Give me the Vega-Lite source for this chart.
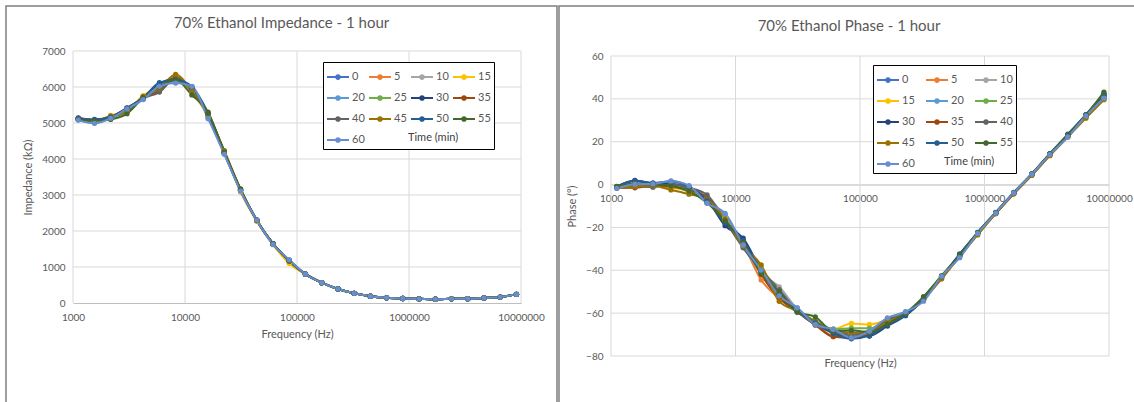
{
"$schema": "https://vega.github.io/schema/vega-lite/v6.json",
"background": "white",
"padding": {"left": 5, "top": 5, "right": 0, "bottom": 0},
"spacing": 0,
"config": {
  "font": "Lato",
  "axis": {"labelColor": "#595959", "titleColor": "#595959", "labelFontSize": 10, "titleFontSize": 11, "titleFontWeight": "normal", "grid": false, "ticks": false, "domain": false, "labelFont": "Lato", "titleFont": "Lato", "labelOverlap": false, "labelFlush": false},
  "title": {"fontSize": 15, "fontWeight": "normal", "color": "#595959", "font": "Lato"},
  "legend": {"strokeColor": "#000000", "fillColor": "#ffffff", "padding": 3, "direction": "horizontal", "symbolType": "M-1,0L1,0M-0.17,0A0.17,0.17,0,1,1,0.17,0A0.17,0.17,0,1,1,-0.17,0Z", "symbolSize": 484, "symbolStrokeWidth": 2, "labelFontSize": 11, "labelColor": "#595959", "labelFont": "Lato", "labelOffset": 2, "rowPadding": 3, "titleOrient": "bottom", "titlePadding": -14, "titleFontSize": 11, "titleFontWeight": "normal", "titleColor": "#404040", "titleFont": "Lato", "titleAnchor": "middle", "titleAlign": "left"}
},
"resolve": {"scale": {"x": "independent", "y": "independent", "color": "independent"}, "legend": {"color": "independent"}},
"datasets": {"d": [
{"t":0,"f":1114,"z":5130,"p":-1},{"t":0,"f":1556,"z":5080,"p":1.5},{"t":0,"f":2172,"z":5180,"p":0.8},{"t":0,"f":3032,"z":5400,"p":1.2},{"t":0,"f":4232,"z":5700,"p":-1},{"t":0,"f":5909,"z":6050,"p":-7.5},{"t":0,"f":8249,"z":6220,"p":-16},{"t":0,"f":11516,"z":5950,"p":-26},{"t":0,"f":16075,"z":5200,"p":-40.5},{"t":0,"f":22441,"z":4160,"p":-51},{"t":0,"f":31333,"z":3130,"p":-58.5},{"t":0,"f":43742,"z":2290,"p":-64.5},{"t":0,"f":61065,"z":1640,"p":-69},{"t":0,"f":85268,"z":1170,"p":-71},{"t":0,"f":119010,"z":800,"p":-69},{"t":0,"f":166150,"z":565,"p":-64},{"t":0,"f":231960,"z":390,"p":-60.5},{"t":0,"f":323810,"z":270,"p":-53},{"t":0,"f":452080,"z":190,"p":-43},{"t":0,"f":631100,"z":145,"p":-33},{"t":0,"f":881050,"z":125,"p":-22.5},{"t":0,"f":1230000,"z":115,"p":-13.2},{"t":0,"f":1717100,"z":105,"p":-4},{"t":0,"f":2397100,"z":115,"p":4.8},{"t":0,"f":3346500,"z":120,"p":14.2},{"t":0,"f":4672000,"z":140,"p":23},{"t":0,"f":6522200,"z":165,"p":32.5},{"t":0,"f":9106500,"z":240,"p":41.5},
{"t":5,"f":1114,"z":5110,"p":-1.5},{"t":5,"f":1556,"z":5060,"p":-1.2},{"t":5,"f":2172,"z":5150,"p":-0.5},{"t":5,"f":3032,"z":5360,"p":-1},{"t":5,"f":4232,"z":5720,"p":-2.5},{"t":5,"f":5909,"z":6000,"p":-6.5},{"t":5,"f":8249,"z":6280,"p":-17},{"t":5,"f":11516,"z":5900,"p":-28},{"t":5,"f":16075,"z":5250,"p":-44.5},{"t":5,"f":22441,"z":4200,"p":-53},{"t":5,"f":31333,"z":3090,"p":-59},{"t":5,"f":43742,"z":2280,"p":-65},{"t":5,"f":61065,"z":1630,"p":-70.5},{"t":5,"f":85268,"z":1150,"p":-70},{"t":5,"f":119010,"z":800,"p":-68.5},{"t":5,"f":166150,"z":565,"p":-63.5},{"t":5,"f":231960,"z":390,"p":-60},{"t":5,"f":323810,"z":270,"p":-53.5},{"t":5,"f":452080,"z":190,"p":-44},{"t":5,"f":631100,"z":145,"p":-33.5},{"t":5,"f":881050,"z":125,"p":-23},{"t":5,"f":1230000,"z":115,"p":-13.5},{"t":5,"f":1717100,"z":105,"p":-4.2},{"t":5,"f":2397100,"z":115,"p":4.5},{"t":5,"f":3346500,"z":120,"p":13.8},{"t":5,"f":4672000,"z":140,"p":22.6},{"t":5,"f":6522200,"z":165,"p":31.8},{"t":5,"f":9106500,"z":240,"p":40.5},
{"t":10,"f":1114,"z":5100,"p":-1.2},{"t":10,"f":1556,"z":5040,"p":-0.5},{"t":10,"f":2172,"z":5160,"p":-1},{"t":10,"f":3032,"z":5380,"p":0.5},{"t":10,"f":4232,"z":5690,"p":-2},{"t":10,"f":5909,"z":5980,"p":-6},{"t":10,"f":8249,"z":6250,"p":-15},{"t":10,"f":11516,"z":5930,"p":-29},{"t":10,"f":16075,"z":5230,"p":-41},{"t":10,"f":22441,"z":4180,"p":-47.7},{"t":10,"f":31333,"z":3120,"p":-58},{"t":10,"f":43742,"z":2300,"p":-64},{"t":10,"f":61065,"z":1650,"p":-68},{"t":10,"f":85268,"z":1160,"p":-69.5},{"t":10,"f":119010,"z":800,"p":-68},{"t":10,"f":166150,"z":565,"p":-63},{"t":10,"f":231960,"z":390,"p":-60},{"t":10,"f":323810,"z":270,"p":-53},{"t":10,"f":452080,"z":190,"p":-43},{"t":10,"f":631100,"z":145,"p":-33.5},{"t":10,"f":881050,"z":125,"p":-22.7},{"t":10,"f":1230000,"z":115,"p":-13.3},{"t":10,"f":1717100,"z":105,"p":-4},{"t":10,"f":2397100,"z":115,"p":4.7},{"t":10,"f":3346500,"z":120,"p":14},{"t":10,"f":4672000,"z":140,"p":22.8},{"t":10,"f":6522200,"z":165,"p":32},{"t":10,"f":9106500,"z":240,"p":41},
{"t":15,"f":1114,"z":5120,"p":-1.5},{"t":15,"f":1556,"z":5050,"p":-0.8},{"t":15,"f":2172,"z":5210,"p":-0.2},{"t":15,"f":3032,"z":5330,"p":-1.5},{"t":15,"f":4232,"z":5760,"p":-3},{"t":15,"f":5909,"z":6020,"p":-7},{"t":15,"f":8249,"z":6300,"p":-15.5},{"t":15,"f":11516,"z":5850,"p":-27.5},{"t":15,"f":16075,"z":5180,"p":-38},{"t":15,"f":22441,"z":4160,"p":-53},{"t":15,"f":31333,"z":3100,"p":-58.5},{"t":15,"f":43742,"z":2270,"p":-64},{"t":15,"f":61065,"z":1620,"p":-67.5},{"t":15,"f":85268,"z":1100,"p":-64.8},{"t":15,"f":119010,"z":800,"p":-65.3},{"t":15,"f":166150,"z":565,"p":-63},{"t":15,"f":231960,"z":390,"p":-60},{"t":15,"f":323810,"z":270,"p":-53},{"t":15,"f":452080,"z":190,"p":-43},{"t":15,"f":631100,"z":145,"p":-33.5},{"t":15,"f":881050,"z":125,"p":-22.8},{"t":15,"f":1230000,"z":115,"p":-13.4},{"t":15,"f":1717100,"z":105,"p":-4.1},{"t":15,"f":2397100,"z":115,"p":4.6},{"t":15,"f":3346500,"z":120,"p":13.9},{"t":15,"f":4672000,"z":140,"p":22.7},{"t":15,"f":6522200,"z":165,"p":31.9},{"t":15,"f":9106500,"z":240,"p":40.8},
{"t":20,"f":1114,"z":5090,"p":-1.5},{"t":20,"f":1556,"z":5000,"p":0.5},{"t":20,"f":2172,"z":5140,"p":0.3},{"t":20,"f":3032,"z":5380,"p":1},{"t":20,"f":4232,"z":5660,"p":-1},{"t":20,"f":5909,"z":6050,"p":-8.5},{"t":20,"f":8249,"z":6150,"p":-14},{"t":20,"f":11516,"z":6000,"p":-28},{"t":20,"f":16075,"z":5150,"p":-39.5},{"t":20,"f":22441,"z":4150,"p":-51.5},{"t":20,"f":31333,"z":3130,"p":-57.5},{"t":20,"f":43742,"z":2300,"p":-65},{"t":20,"f":61065,"z":1640,"p":-67.5},{"t":20,"f":85268,"z":1180,"p":-70},{"t":20,"f":119010,"z":800,"p":-68},{"t":20,"f":166150,"z":565,"p":-62.5},{"t":20,"f":231960,"z":390,"p":-59.5},{"t":20,"f":323810,"z":270,"p":-54},{"t":20,"f":452080,"z":190,"p":-43},{"t":20,"f":631100,"z":145,"p":-34},{"t":20,"f":881050,"z":125,"p":-22.6},{"t":20,"f":1230000,"z":115,"p":-13.2},{"t":20,"f":1717100,"z":105,"p":-3.9},{"t":20,"f":2397100,"z":115,"p":4.9},{"t":20,"f":3346500,"z":120,"p":14.1},{"t":20,"f":4672000,"z":140,"p":22.9},{"t":20,"f":6522200,"z":165,"p":32.2},{"t":20,"f":9106500,"z":240,"p":41.2},
{"t":25,"f":1114,"z":5110,"p":-1},{"t":25,"f":1556,"z":5060,"p":-0.5},{"t":25,"f":2172,"z":5170,"p":0},{"t":25,"f":3032,"z":5300,"p":-0.5},{"t":25,"f":4232,"z":5730,"p":-3.5},{"t":25,"f":5909,"z":5990,"p":-8},{"t":25,"f":8249,"z":6260,"p":-16.5},{"t":25,"f":11516,"z":5880,"p":-28.5},{"t":25,"f":16075,"z":5240,"p":-39},{"t":25,"f":22441,"z":4170,"p":-50},{"t":25,"f":31333,"z":3120,"p":-59},{"t":25,"f":43742,"z":2290,"p":-63.5},{"t":25,"f":61065,"z":1640,"p":-67.5},{"t":25,"f":85268,"z":1160,"p":-67},{"t":25,"f":119010,"z":800,"p":-67},{"t":25,"f":166150,"z":565,"p":-65},{"t":25,"f":231960,"z":390,"p":-61},{"t":25,"f":323810,"z":270,"p":-52.5},{"t":25,"f":452080,"z":190,"p":-43},{"t":25,"f":631100,"z":145,"p":-33},{"t":25,"f":881050,"z":125,"p":-22.4},{"t":25,"f":1230000,"z":115,"p":-13.1},{"t":25,"f":1717100,"z":105,"p":-3.8},{"t":25,"f":2397100,"z":115,"p":5},{"t":25,"f":3346500,"z":120,"p":14.3},{"t":25,"f":4672000,"z":140,"p":23.2},{"t":25,"f":6522200,"z":165,"p":32.4},{"t":25,"f":9106500,"z":240,"p":41.8},
{"t":30,"f":1114,"z":5140,"p":-1},{"t":30,"f":1556,"z":5090,"p":1.9},{"t":30,"f":2172,"z":5170,"p":0.5},{"t":30,"f":3032,"z":5420,"p":0.2},{"t":30,"f":4232,"z":5700,"p":-1.5},{"t":30,"f":5909,"z":6090,"p":-7},{"t":30,"f":8249,"z":6230,"p":-19.2},{"t":30,"f":11516,"z":5960,"p":-25},{"t":30,"f":16075,"z":5260,"p":-40},{"t":30,"f":22441,"z":4190,"p":-51.5},{"t":30,"f":31333,"z":3140,"p":-59.5},{"t":30,"f":43742,"z":2300,"p":-64},{"t":30,"f":61065,"z":1650,"p":-69},{"t":30,"f":85268,"z":1170,"p":-71},{"t":30,"f":119010,"z":800,"p":-70.7},{"t":30,"f":166150,"z":565,"p":-66},{"t":30,"f":231960,"z":390,"p":-61.2},{"t":30,"f":323810,"z":270,"p":-53.5},{"t":30,"f":452080,"z":190,"p":-43.5},{"t":30,"f":631100,"z":145,"p":-32.5},{"t":30,"f":881050,"z":125,"p":-22.5},{"t":30,"f":1230000,"z":115,"p":-13.2},{"t":30,"f":1717100,"z":105,"p":-3.9},{"t":30,"f":2397100,"z":115,"p":4.8},{"t":30,"f":3346500,"z":120,"p":14.2},{"t":30,"f":4672000,"z":140,"p":23.1},{"t":30,"f":6522200,"z":165,"p":32.5},{"t":30,"f":9106500,"z":240,"p":42},
{"t":35,"f":1114,"z":5120,"p":-1.5},{"t":35,"f":1556,"z":5070,"p":-1.5},{"t":35,"f":2172,"z":5150,"p":-0.5},{"t":35,"f":3032,"z":5340,"p":-1},{"t":35,"f":4232,"z":5690,"p":-2.5},{"t":35,"f":5909,"z":5900,"p":-6},{"t":35,"f":8249,"z":6270,"p":-17.5},{"t":35,"f":11516,"z":5900,"p":-27},{"t":35,"f":16075,"z":5240,"p":-42},{"t":35,"f":22441,"z":4220,"p":-53},{"t":35,"f":31333,"z":3150,"p":-59.5},{"t":35,"f":43742,"z":2290,"p":-65.5},{"t":35,"f":61065,"z":1640,"p":-71},{"t":35,"f":85268,"z":1170,"p":-71.5},{"t":35,"f":119010,"z":800,"p":-70},{"t":35,"f":166150,"z":565,"p":-64},{"t":35,"f":231960,"z":390,"p":-60.5},{"t":35,"f":323810,"z":270,"p":-53},{"t":35,"f":452080,"z":190,"p":-43},{"t":35,"f":631100,"z":145,"p":-33},{"t":35,"f":881050,"z":125,"p":-23},{"t":35,"f":1230000,"z":115,"p":-13.5},{"t":35,"f":1717100,"z":105,"p":-4.3},{"t":35,"f":2397100,"z":115,"p":4.4},{"t":35,"f":3346500,"z":120,"p":13.7},{"t":35,"f":4672000,"z":140,"p":22.5},{"t":35,"f":6522200,"z":165,"p":31.5},{"t":35,"f":9106500,"z":240,"p":40},
{"t":40,"f":1114,"z":5130,"p":-1},{"t":40,"f":1556,"z":5080,"p":-0.5},{"t":40,"f":2172,"z":5160,"p":-1.2},{"t":40,"f":3032,"z":5380,"p":0},{"t":40,"f":4232,"z":5680,"p":-1.5},{"t":40,"f":5909,"z":5860,"p":-4.8},{"t":40,"f":8249,"z":6240,"p":-17},{"t":40,"f":11516,"z":5920,"p":-29.5},{"t":40,"f":16075,"z":5230,"p":-40},{"t":40,"f":22441,"z":4160,"p":-49},{"t":40,"f":31333,"z":3140,"p":-59},{"t":40,"f":43742,"z":2290,"p":-65.5},{"t":40,"f":61065,"z":1640,"p":-69},{"t":40,"f":85268,"z":1180,"p":-70},{"t":40,"f":119010,"z":800,"p":-69},{"t":40,"f":166150,"z":565,"p":-63},{"t":40,"f":231960,"z":390,"p":-60.5},{"t":40,"f":323810,"z":270,"p":-53},{"t":40,"f":452080,"z":190,"p":-43},{"t":40,"f":631100,"z":145,"p":-33.5},{"t":40,"f":881050,"z":125,"p":-22.8},{"t":40,"f":1230000,"z":115,"p":-13.4},{"t":40,"f":1717100,"z":105,"p":-4},{"t":40,"f":2397100,"z":115,"p":4.7},{"t":40,"f":3346500,"z":120,"p":14},{"t":40,"f":4672000,"z":140,"p":22.9},{"t":40,"f":6522200,"z":165,"p":32.1},{"t":40,"f":9106500,"z":240,"p":41},
{"t":45,"f":1114,"z":5110,"p":-1.2},{"t":45,"f":1556,"z":5050,"p":-1},{"t":45,"f":2172,"z":5200,"p":-0.5},{"t":45,"f":3032,"z":5320,"p":-2.5},{"t":45,"f":4232,"z":5740,"p":-4.5},{"t":45,"f":5909,"z":5960,"p":-7},{"t":45,"f":8249,"z":6350,"p":-16},{"t":45,"f":11516,"z":5870,"p":-28.5},{"t":45,"f":16075,"z":5220,"p":-37.5},{"t":45,"f":22441,"z":4230,"p":-54.5},{"t":45,"f":31333,"z":3160,"p":-59},{"t":45,"f":43742,"z":2300,"p":-64},{"t":45,"f":61065,"z":1650,"p":-68.5},{"t":45,"f":85268,"z":1170,"p":-69},{"t":45,"f":119010,"z":800,"p":-69},{"t":45,"f":166150,"z":565,"p":-64},{"t":45,"f":231960,"z":390,"p":-60.5},{"t":45,"f":323810,"z":270,"p":-53.5},{"t":45,"f":452080,"z":190,"p":-44},{"t":45,"f":631100,"z":145,"p":-33.5},{"t":45,"f":881050,"z":125,"p":-23.5},{"t":45,"f":1230000,"z":115,"p":-13.6},{"t":45,"f":1717100,"z":105,"p":-4.3},{"t":45,"f":2397100,"z":115,"p":4.3},{"t":45,"f":3346500,"z":120,"p":13.5},{"t":45,"f":4672000,"z":140,"p":22.2},{"t":45,"f":6522200,"z":165,"p":31},{"t":45,"f":9106500,"z":240,"p":39.6},
{"t":50,"f":1114,"z":5120,"p":-1},{"t":50,"f":1556,"z":5100,"p":1.8},{"t":50,"f":2172,"z":5160,"p":0.6},{"t":50,"f":3032,"z":5410,"p":1.5},{"t":50,"f":4232,"z":5700,"p":-1},{"t":50,"f":5909,"z":6120,"p":-7.5},{"t":50,"f":8249,"z":6200,"p":-18},{"t":50,"f":11516,"z":6010,"p":-26},{"t":50,"f":16075,"z":5280,"p":-41},{"t":50,"f":22441,"z":4180,"p":-51},{"t":50,"f":31333,"z":3150,"p":-59},{"t":50,"f":43742,"z":2310,"p":-64.5},{"t":50,"f":61065,"z":1650,"p":-69.5},{"t":50,"f":85268,"z":1180,"p":-72},{"t":50,"f":119010,"z":800,"p":-70.5},{"t":50,"f":166150,"z":565,"p":-65.5},{"t":50,"f":231960,"z":390,"p":-61},{"t":50,"f":323810,"z":270,"p":-53.5},{"t":50,"f":452080,"z":190,"p":-43},{"t":50,"f":631100,"z":145,"p":-32.5},{"t":50,"f":881050,"z":125,"p":-22.3},{"t":50,"f":1230000,"z":115,"p":-13},{"t":50,"f":1717100,"z":105,"p":-3.7},{"t":50,"f":2397100,"z":115,"p":5},{"t":50,"f":3346500,"z":120,"p":14.4},{"t":50,"f":4672000,"z":140,"p":23.5},{"t":50,"f":6522200,"z":165,"p":32.6},{"t":50,"f":9106500,"z":240,"p":42.2},
{"t":55,"f":1114,"z":5100,"p":-0.8},{"t":55,"f":1556,"z":5060,"p":0.5},{"t":55,"f":2172,"z":5100,"p":0},{"t":55,"f":3032,"z":5260,"p":-0.5},{"t":55,"f":4232,"z":5700,"p":-3},{"t":55,"f":5909,"z":6000,"p":-8.5},{"t":55,"f":8249,"z":6200,"p":-17},{"t":55,"f":11516,"z":5780,"p":-27},{"t":55,"f":16075,"z":5300,"p":-41.5},{"t":55,"f":22441,"z":4190,"p":-50},{"t":55,"f":31333,"z":3170,"p":-59.5},{"t":55,"f":43742,"z":2300,"p":-61.7},{"t":55,"f":61065,"z":1640,"p":-68.5},{"t":55,"f":85268,"z":1190,"p":-68},{"t":55,"f":119010,"z":800,"p":-69},{"t":55,"f":166150,"z":565,"p":-65},{"t":55,"f":231960,"z":390,"p":-60},{"t":55,"f":323810,"z":270,"p":-52.3},{"t":55,"f":452080,"z":190,"p":-42.5},{"t":55,"f":631100,"z":145,"p":-33},{"t":55,"f":881050,"z":125,"p":-22.4},{"t":55,"f":1230000,"z":115,"p":-13.1},{"t":55,"f":1717100,"z":105,"p":-3.8},{"t":55,"f":2397100,"z":115,"p":5},{"t":55,"f":3346500,"z":120,"p":14.3},{"t":55,"f":4672000,"z":140,"p":23.2},{"t":55,"f":6522200,"z":165,"p":32.4},{"t":55,"f":9106500,"z":240,"p":43.1},
{"t":60,"f":1114,"z":5080,"p":-1.8},{"t":60,"f":1556,"z":4990,"p":0.2},{"t":60,"f":2172,"z":5130,"p":0.3},{"t":60,"f":3032,"z":5390,"p":1.7},{"t":60,"f":4232,"z":5650,"p":-0.5},{"t":60,"f":5909,"z":6020,"p":-8.7},{"t":60,"f":8249,"z":6110,"p":-13.4},{"t":60,"f":11516,"z":6020,"p":-28.2},{"t":60,"f":16075,"z":5120,"p":-39.9},{"t":60,"f":22441,"z":4130,"p":-51.9},{"t":60,"f":31333,"z":3110,"p":-57.5},{"t":60,"f":43742,"z":2300,"p":-65.3},{"t":60,"f":61065,"z":1630,"p":-67.6},{"t":60,"f":85268,"z":1200,"p":-71.5},{"t":60,"f":119010,"z":800,"p":-68.4},{"t":60,"f":166150,"z":565,"p":-62.2},{"t":60,"f":231960,"z":390,"p":-59.3},{"t":60,"f":323810,"z":270,"p":-54.4},{"t":60,"f":452080,"z":190,"p":-42.8},{"t":60,"f":631100,"z":145,"p":-34.1},{"t":60,"f":881050,"z":125,"p":-22.8},{"t":60,"f":1230000,"z":115,"p":-13.3},{"t":60,"f":1717100,"z":105,"p":-3.9},{"t":60,"f":2397100,"z":115,"p":4.8},{"t":60,"f":3346500,"z":120,"p":14},{"t":60,"f":4672000,"z":140,"p":22.2},{"t":60,"f":6522200,"z":165,"p":32},{"t":60,"f":9106500,"z":240,"p":40.3}
]},
"hconcat": [
{
  "width": 551, "height": 400,
  "view": {"stroke": "#7f7f7f", "strokeWidth": 1.5},
  "title": {"text": "70% Ethanol Impedance - 1 hour", "offset": -25},
  "layer": [
    {"data": {"values": [{"f": 1000}, {"f": 10000}, {"f": 100000}, {"f": 1000000}, {"f": 10000000}]},
     "mark": {"type": "rule", "color": "#d9d9d9", "strokeWidth": 1},
     "encoding": {"x": {"field": "f", "type": "quantitative", "scale": {"type": "log", "domain": [1000, 10000000], "range": [67, 515], "nice": false}},
                  "y": {"datum": 0, "type": "quantitative", "scale": {"domain": [0, 7000], "range": [297, 45], "nice": false, "zero": false}}, "y2": {"datum": 7000}}},
    {"data": {"values": [{"z": 1000}, {"z": 2000}, {"z": 3000}, {"z": 4000}, {"z": 5000}, {"z": 6000}, {"z": 7000}]},
     "mark": {"type": "rule", "color": "#d9d9d9", "strokeWidth": 1},
     "encoding": {"y": {"field": "z", "type": "quantitative", "scale": {"domain": [0, 7000], "range": [297, 45], "nice": false, "zero": false}},
                  "x": {"datum": 1000, "type": "quantitative", "scale": {"type": "log", "domain": [1000, 10000000], "range": [67, 515], "nice": false}}, "x2": {"datum": 10000000}}},
    {"data": {"name": "d"},
     "mark": {"type": "line", "strokeWidth": 2, "interpolate": "monotone", "point": {"filled": true, "size": 28}},
     "encoding": {
       "x": {"field": "f", "type": "quantitative", "scale": {"type": "log", "domain": [1000, 10000000], "range": [67, 515], "nice": false}, "axis": {"values": [1000, 10000, 100000, 1000000, 10000000], "format": "d", "title": "Frequency (Hz)", "labelPadding": 9, "titlePadding": 6, "offset": -103, "domain": true, "domainColor": "#bfbfbf"}},
       "y": {"field": "z", "type": "quantitative", "scale": {"domain": [0, 7000], "range": [297, 45], "nice": false, "zero": false}, "axis": {"values": [0, 1000, 2000, 3000, 4000, 5000, 6000, 7000], "format": "d", "title": "Impedance (kΩ)", "labelPadding": 8, "titlePadding": 8, "offset": -67}},
       "color": {"field": "t", "type": "ordinal", "scale": {"domain": [0, 5, 10, 15, 20, 25, 30, 35, 40, 45, 50, 55, 60], "range": ["#4472C4", "#ED7D31", "#A5A5A5", "#FFC000", "#5B9BD5", "#70AD47", "#264478", "#9E480E", "#636363", "#997300", "#255E91", "#43682B", "#698ED0"]},
         "legend": {"title": "Time (min)", "orient": "none", "legendX": 317, "legendY": 56, "columns": 4, "columnPadding": 0,
           "encode": {"symbols": {"update": {"fill": {"signal": "['#4472C4','#ED7D31','#A5A5A5','#FFC000','#5B9BD5','#70AD47','#264478','#9E480E','#636363','#997300','#255E91','#43682B','#698ED0'][datum.value/5]"}, "stroke": {"signal": "['#4472C4','#ED7D31','#A5A5A5','#FFC000','#5B9BD5','#70AD47','#264478','#9E480E','#636363','#997300','#255E91','#43682B','#698ED0'][datum.value/5]"}}}}}}
     }}
  ]
},
{
  "width": 580, "height": 400,
  "view": {"stroke": "#7f7f7f", "strokeWidth": 1.5},
  "title": {"text": "70% Ethanol Phase - 1 hour", "offset": -28},
  "layer": [
    {"data": {"values": [{"f": 1000}, {"f": 10000}, {"f": 100000}, {"f": 1000000}, {"f": 10000000}]},
     "mark": {"type": "rule", "color": "#d9d9d9", "strokeWidth": 1},
     "encoding": {"x": {"field": "f", "type": "quantitative", "scale": {"type": "log", "domain": [1000, 10000000], "range": [52, 550], "nice": false}},
                  "y": {"datum": -80, "type": "quantitative", "scale": {"domain": [-80, 60], "range": [350, 50], "nice": false, "zero": false}}, "y2": {"datum": 60}}},
    {"data": {"values": [{"p": -80}, {"p": -60}, {"p": -40}, {"p": -20}, {"p": 0}, {"p": 20}, {"p": 40}, {"p": 60}]},
     "mark": {"type": "rule", "color": "#d9d9d9", "strokeWidth": 1},
     "encoding": {"y": {"field": "p", "type": "quantitative", "scale": {"domain": [-80, 60], "range": [350, 50], "nice": false, "zero": false}},
                  "x": {"datum": 1000, "type": "quantitative", "scale": {"type": "log", "domain": [1000, 10000000], "range": [52, 550], "nice": false}}, "x2": {"datum": 10000000}}},
    {"data": {"name": "d"},
     "mark": {"type": "line", "strokeWidth": 2, "interpolate": "monotone", "point": {"filled": true, "size": 28}},
     "encoding": {
       "x": {"field": "f", "type": "quantitative", "scale": {"type": "log", "domain": [1000, 10000000], "range": [52, 550], "nice": false}, "axis": {"values": [1000, 10000, 100000, 1000000, 10000000], "format": "d", "title": "Frequency (Hz)", "labelPadding": 9, "offset": -221.43, "titleY": 173, "domain": true, "domainColor": "#bfbfbf"}},
       "y": {"field": "p", "type": "quantitative", "scale": {"domain": [-80, 60], "range": [350, 50], "nice": false, "zero": false}, "axis": {"values": [-80, -60, -40, -20, 0, 20, 40, 60], "title": "Phase (°)", "labelPadding": 8, "titlePadding": 8, "offset": -52}},
       "color": {"field": "t", "type": "ordinal", "scale": {"domain": [0, 5, 10, 15, 20, 25, 30, 35, 40, 45, 50, 55, 60], "range": ["#4472C4", "#ED7D31", "#A5A5A5", "#FFC000", "#5B9BD5", "#70AD47", "#264478", "#9E480E", "#636363", "#997300", "#255E91", "#43682B", "#698ED0"]},
         "legend": {"title": "Time (min)", "orient": "none", "legendX": 314, "legendY": 59, "columns": 3, "columnPadding": 7,
           "encode": {"symbols": {"update": {"fill": {"signal": "['#4472C4','#ED7D31','#A5A5A5','#FFC000','#5B9BD5','#70AD47','#264478','#9E480E','#636363','#997300','#255E91','#43682B','#698ED0'][datum.value/5]"}, "stroke": {"signal": "['#4472C4','#ED7D31','#A5A5A5','#FFC000','#5B9BD5','#70AD47','#264478','#9E480E','#636363','#997300','#255E91','#43682B','#698ED0'][datum.value/5]"}}}}}}
     }}
  ]
}
]
}
